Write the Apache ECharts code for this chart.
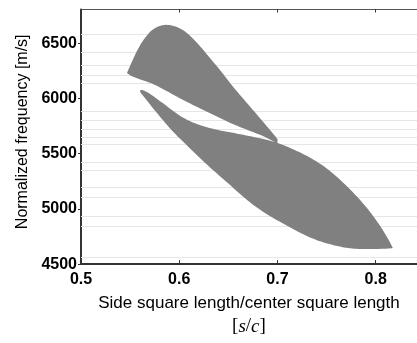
<!DOCTYPE html>
<html>
<head>
<meta charset="utf-8">
<script src="https://cdn.jsdelivr.net/npm/echarts@6/dist/echarts.min.js"></script>
<style>
  html, body { margin: 0; padding: 0; background: #fff; }
  #chart { width: 417px; height: 343px; }
</style>
</head>
<body>
<div id="chart"></div>
<script>
// upper band: top edge left->right, bottom edge right->left
var upperBandTop = [
  [0.5468, 6231], [0.5552, 6406], [0.5637, 6538], [0.5739, 6640], [0.5881, 6678],
  [0.6044, 6625], [0.618, 6509], [0.6315, 6363], [0.6417, 6257], [0.6552, 6100],
  [0.6722, 5925], [0.6892, 5750], [0.7, 5633]
];
var upperBandBottom = [
  [0.7, 5589], [0.6892, 5647], [0.6722, 5706], [0.6552, 5764], [0.6383, 5837],
  [0.6214, 5910], [0.6044, 5983], [0.5807, 6100], [0.5705, 6144], [0.5502, 6202],
  [0.5468, 6231]
];
// lower band
var lowerBandTop = [
  [0.5603, 6076], [0.5637, 6085], [0.584, 5954], [0.601, 5837], [0.618, 5764],
  [0.6383, 5715], [0.6621, 5677], [0.6858, 5633], [0.6994, 5603], [0.7231, 5513],
  [0.7393, 5434], [0.7535, 5347], [0.774, 5180], [0.7943, 4979], [0.8113, 4757],
  [0.8174, 4646]
];
var lowerBandBottom = [
  [0.8174, 4646], [0.8147, 4640], [0.7909, 4635], [0.774, 4640], [0.757, 4670], [0.7401, 4714],
  [0.7231, 4782], [0.6892, 4947], [0.6689, 5078], [0.6519, 5215], [0.6451, 5268],
  [0.6282, 5399], [0.6112, 5546], [0.5942, 5691], [0.5773, 5866], [0.5603, 6056]
];
// faint horizontal lines in the background
var gridValues = [6581, 6421, 6299, 6211, 6141, 5887, 5802, 5721, 5651, 5589,
  5423, 5347, 5195, 5108, 4933, 4839, 4561];

var bands = [
  [upperBandTop, upperBandBottom],
  [lowerBandTop, lowerBandBottom]
];

// smooth an edge in pixel space: quadratic curves through midpoints, ends kept
function smoothEdge(pts) {
  if (pts.length < 3) return pts.slice();
  var out = [pts[0]];
  var start = pts[0];
  for (var i = 1; i < pts.length - 1; i++) {
    var c = pts[i];
    var end = i === pts.length - 2 ? pts[i + 1]
      : [(pts[i][0] + pts[i + 1][0]) / 2, (pts[i][1] + pts[i + 1][1]) / 2];
    for (var t = 0.125; t <= 1.0001; t += 0.125) {
      var a = (1 - t) * (1 - t), b = 2 * (1 - t) * t, d = t * t;
      out.push([a * start[0] + b * c[0] + d * end[0], a * start[1] + b * c[1] + d * end[1]]);
    }
    start = end;
  }
  return out;
}

var myChart = echarts.init(document.getElementById("chart"));

var option = {
  animation: false,
  textStyle: { fontFamily: "Liberation Sans" },
  grid: { left: 81, right: 0, top: 9.5, bottom: 71 },
  xAxis: [
    {
      type: "value",
      min: 0.5,
      max: 0.842,
      interval: 0.1,
      position: "bottom",
      splitLine: { show: false },
      axisLine: { show: true, lineStyle: { color: "#333", width: 2 } },
      axisTick: { show: true, inside: true, length: 4, lineStyle: { color: "#333" } },
      axisLabel: {
        color: "#000",
        fontSize: 16,
        fontWeight: "bold",
        margin: 7,
        showMaxLabel: false,
        formatter: function (v) { return v.toFixed(1); },
      },
      nameLocation: "middle",
      nameGap: 24,
      name: "Side square length/center square length\n{b|[}{i|s}{b|/}{i|c}{b|]}",
      nameTextStyle: {
        color: "#000",
        fontSize: 17,
        lineHeight: 23,
        rich: {
          b: { fontFamily: "Liberation Serif", fontSize: 19, color: "#000", lineHeight: 23 },
          i: { fontFamily: "Liberation Serif", fontStyle: "italic", fontSize: 19, color: "#000", lineHeight: 23 },
        },
      },
    },
    {
      type: "value",
      min: 0.5,
      max: 0.842,
      interval: 0.1,
      position: "top",
      splitLine: { show: false },
      axisLine: { show: true, lineStyle: { color: "#555", width: 1 } },
      axisTick: { show: true, inside: true, length: 3, lineStyle: { color: "#333" } },
      axisLabel: { show: false },
    },
  ],
  yAxis: {
    type: "value",
    min: 4500,
    max: 6806,
    interval: 500,
    splitLine: { show: false },
    axisLine: { show: true, lineStyle: { color: "#333", width: 2 } },
    axisTick: { show: true, length: 3, lineStyle: { color: "#333" } },
    axisLabel: {
      color: "#000",
      fontSize: 16,
      fontWeight: "bold",
      margin: 4,
      showMaxLabel: false,
      formatter: function (v) { return String(v); },
    },
    name: "Normalized frequency [m/s]",
    nameLocation: "middle",
    nameGap: 48,
    nameTextStyle: { color: "#000", fontSize: 16, padding: [0, 0, 0, 10] },
  },
  series: [
    {
      type: "line",
      data: [],
      z: 1,
      markLine: {
        silent: true,
        symbol: "none",
        label: { show: false },
        lineStyle: { color: "#e6e6e6", width: 1, type: "solid" },
        data: gridValues.map(function (v) { return { yAxis: v }; }),
      },
    },
    {
      type: "custom",
      z: 10,
      data: [0, 1],
      renderItem: function (params, api) {
        var band = bands[params.dataIndex];
        var top = smoothEdge(band[0].map(function (p) { return api.coord(p); }));
        var bottom = smoothEdge(band[1].map(function (p) { return api.coord(p); }));
        return {
          type: "polygon",
          shape: { points: top.concat(bottom) },
          style: { fill: "#808080", stroke: "none" },
        };
      },
    },
  ],
};

myChart.setOption(option);
window.addEventListener("resize", myChart.resize);
</script>
</body>
</html>
